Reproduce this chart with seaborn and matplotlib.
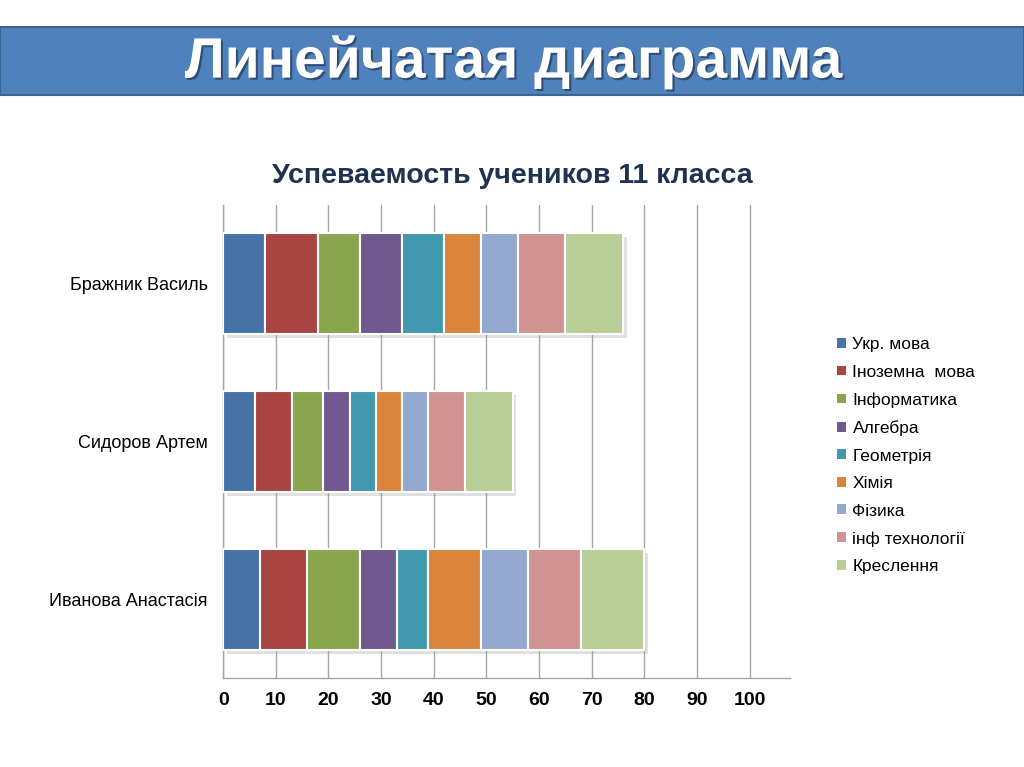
import matplotlib.pyplot as plt
import matplotlib.patheffects as pe
from matplotlib.patches import Rectangle, Patch
import numpy as np
import pandas as pd
import seaborn as sns

sns.set_theme(style="white")
plt.rcParams["font.family"] = ["Liberation Sans", "DejaVu Sans"]

# ============================================================
# DATA
# ============================================================
students = ["Бражник Василь", "Сидоров Артем", "Иванова Анастасія"]
subjects = ["Укр. мова", "Іноземна  мова", "Інформатика", "Алгебра", "Геометрія",
            "Хімія", "Фізика", "інф технології", "Креслення"]
scores = {
    "Укр. мова":       [8, 6, 7],
    "Іноземна  мова":  [10, 7, 9],
    "Інформатика":     [8, 6, 10],
    "Алгебра":         [8, 5, 7],
    "Геометрія":       [8, 5, 6],
    "Хімія":           [7, 5, 10],
    "Фізика":          [7, 5, 9],
    "інф технології":  [9, 7, 10],
    "Креслення":       [11, 9, 12],
}
colors = ["#4672A8", "#A84442", "#89A54E", "#71588F", "#4198AF",
          "#DB843D", "#93A9CF", "#D19392", "#B9CD96"]
xticks = [0, 10, 20, 30, 40, 50, 60, 70, 80, 90, 100]

df = pd.DataFrame(scores)
df.insert(0, "student", students)

# ============================================================
# FIGURE
# ============================================================
fig = plt.figure(figsize=(10.24, 7.67), dpi=100)

# slide header banner
fig.patches.append(Rectangle((0, 0.876), 1, 0.089, transform=fig.transFigure,
                             facecolor="#4F81BD", edgecolor="#3A6597", lw=1.5, zorder=0))
fig.text(0.502, 0.919, "Линейчатая диаграмма", ha="center", va="center",
         color="white", fontsize=41, fontweight="bold", fontstyle="normal",
         path_effects=[pe.withSimplePatchShadow(offset=(1.5, -1.5), shadow_rgbFace="#1c2d45", alpha=0.6)])

ax = fig.add_axes([0.218, 0.116, 0.553, 0.617])

left = np.zeros(len(students))
for subj, col in zip(subjects, colors):
    sns.barplot(data=df, y="student", x=subj, order=students, left=left,
                color=col, saturation=1, width=0.64, edgecolor="white",
                linewidth=1.5, ax=ax, zorder=3)
    left = left + df[subj].to_numpy()

shadow = [pe.SimplePatchShadow(offset=(2.5, -3), shadow_rgbFace="#999999", alpha=0.3), pe.Normal()]
for p in ax.patches:
    p.set_path_effects(shadow)

ax.set_xlim(0, 107.6)
ax.set_ylim(2.5, -0.5)
ax.set_xticks(xticks)
ax.set_xticklabels([str(t) for t in xticks], fontsize=14, fontweight="bold", color="black")
ax.tick_params(axis="x", length=0, pad=10)
ax.tick_params(axis="y", length=0, pad=11, labelsize=13, labelcolor="black")
ax.grid(axis="x", color="#a6a6a6", lw=1, zorder=0)
ax.set_axisbelow(True)
ax.set_xlabel("")
ax.set_ylabel("")
for s in ["top", "right"]:
    ax.spines[s].set_visible(False)
for s in ["left", "bottom"]:
    ax.spines[s].set_color("#a6a6a6")
    ax.spines[s].set_linewidth(1)

ax.set_title("Успеваемость учеников 11 класса", fontsize=20.5, fontweight="bold",
             color="#1F3350", pad=16, x=0.51)

handles = [Patch(facecolor=c, edgecolor="none") for c in colors]
fig.legend(handles, subjects, loc="center left", bbox_to_anchor=(0.802, 0.406),
           frameon=False, fontsize=12.5, handlelength=0.5, handleheight=0.5,
           handletextpad=0.4, labelspacing=0.72, labelcolor="black")

plt.savefig("out.png", dpi=100)
plt.close()
